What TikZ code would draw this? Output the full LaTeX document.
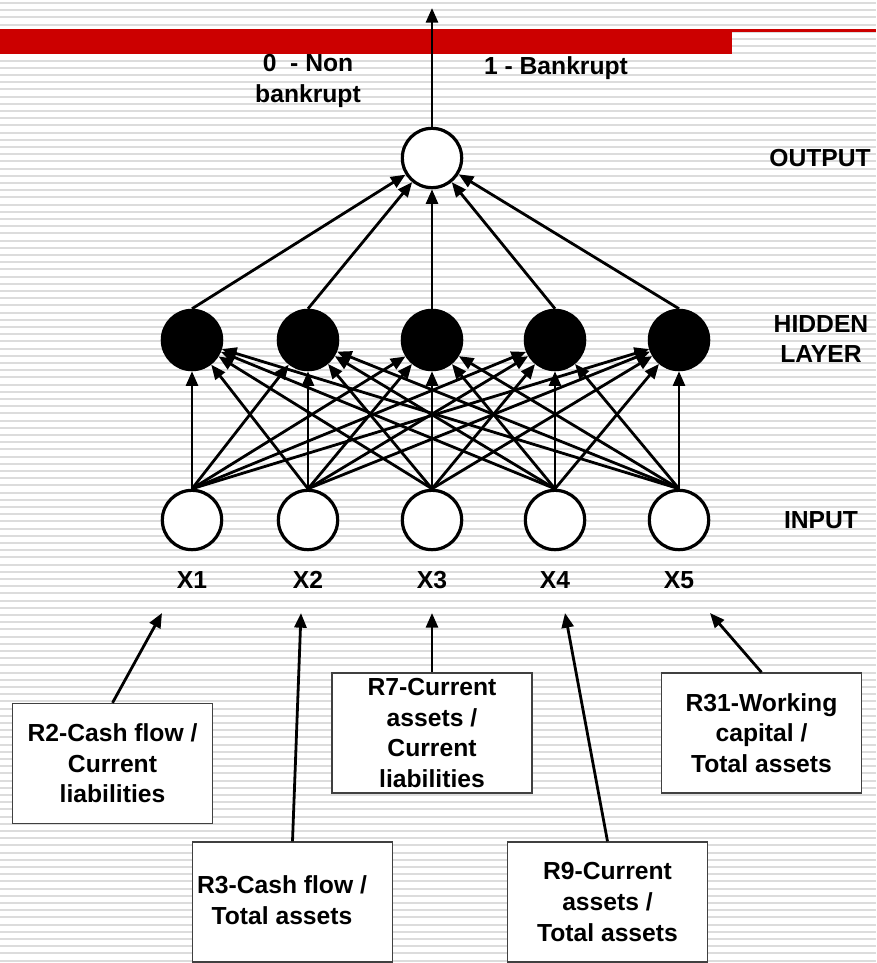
\documentclass[tikz,border=0pt]{standalone}
\usepackage{fontspec}
\setmainfont{Liberation Sans}
\usetikzlibrary{arrows.meta}
\definecolor{barred}{HTML}{CC0000}
\definecolor{stripegray}{HTML}{DCDCDC}
\begin{document}
\begin{tikzpicture}[x=0.75pt,y=-0.75pt,
  neuron/.style={circle,draw=black,line width=2.4pt,minimum size=44.5pt,inner sep=0pt},
  hid/.style={neuron,fill=black},
  inp/.style={neuron,fill=white},
  conn/.style={line width=2.1pt,-{Triangle[length=11pt,width=9pt]}},
  lbl/.style={font=\fontsize{18.5}{23}\selectfont\bfseries,align=center,inner sep=0pt},
  ratiobox/.style={draw=black!75,line width=1pt,fill=white,rectangle,inner sep=0pt,
    minimum width=150pt,minimum height=90pt,font=\fontsize{18.5}{23}\selectfont\bfseries,align=center},
  stripe/.style={stripegray,line width=1.5pt}]
\useasboundingbox (0,0) rectangle (876,963);
\fill[white] (0,0) rectangle (876,963);
\foreach \i in {0,...,133} \draw[stripe] (0,\i*7.2+3) -- (876,\i*7.2+3);
% red bar
\fill[barred] (0,29) rectangle (732,54);
\fill[barred] (732,29) rectangle (876,32);
% neurons
\node[inp] (out) at (432,158) {};
\foreach \n/\x in {1/192,2/308,3/432,4/555,5/679} {
  \node[hid] (h\n) at (\x,340) {};
  \node[inp] (i\n) at (\x,520) {};
  \node[lbl] (xl\n) at (\x,580) {X\n};
}
% connections input -> hidden
\foreach \a in {1,...,5} \foreach \b in {1,...,5} \draw[conn] (i\a.north) -- (h\b);
% hidden -> output
\foreach \b in {1,...,5} \draw[conn] (h\b.north) -- (out);
% output arrow
\coordinate (top) at (432,8);
\draw[conn] (out.north) -- (top);
% texts at top
\node[lbl] (nonb) at (308,81) {0\ \ - Non\\bankrupt};
\node[lbl] (bank) at (556,68) {1 - Bankrupt};
% layer labels
\node[lbl] (lout) at (820,158) {OUTPUT};
\node[lbl] (lhid) at (821,339) {HIDDEN\\LAYER};
\node[lbl] (linp) at (821,520) {INPUT};
% ratio boxes
\node[ratiobox] (r2) at (112.5,763.5) {R2-Cash flow /\\Current\\liabilities};
\node[ratiobox] (r3) at (292.5,902) {};
\node[lbl] (r3t) at (282,900) {R3-Cash flow /\\Total assets};
\node[ratiobox] (r7) at (432,733) {R7-Current\\assets /\\Current\\liabilities};
\node[ratiobox] (r9) at (607.5,902) {R9-Current\\assets /\\Total assets};
\node[ratiobox] (r31) at (761.5,733) {R31-Working\\capital /\\Total assets};
% arrow targets
\coordinate (t2) at (162,613);
\coordinate (t3) at (301,613);
\coordinate (t7) at (432,613);
\coordinate (t9) at (565,613);
\coordinate (t31) at (710,613);
\draw[conn] (r2.north) -- (t2);
\draw[conn] (r3.north) -- (t3);
\draw[conn] (r7.north) -- (t7);
\draw[conn] (r9.north) -- (t9);
\draw[conn] (r31.north) -- (t31);
\end{tikzpicture}
\end{document}
